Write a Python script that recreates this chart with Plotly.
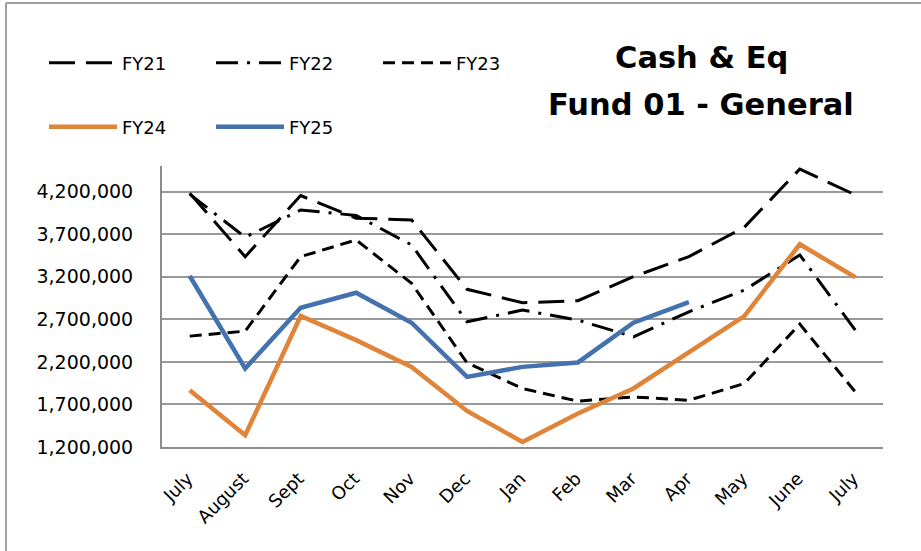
import plotly.graph_objects as go

months = ["July", "August", "Sept", "Oct", "Nov", "Dec", "Jan", "Feb", "Mar", "Apr", "May", "June", "July"]
positions = list(range(len(months)))

fy21 = [4181000, 3435000, 4153000, 3887000, 3867000, 3052000, 2894000, 2918000, 3200000, 3435000, 3781000, 4464000, 4161000]
fy22 = [4170000, 3664000, 3983000, 3920000, 3573000, 2671000, 2808000, 2690000, 2494000, 2788000, 3043000, 3455000, 2573000]
fy23 = [2502000, 2561000, 3435000, 3632000, 3122000, 2188000, 1887000, 1738000, 1788000, 1749000, 1946000, 2643000, 1847000]
fy24 = [1867000, 1338000, 2738000, 2455000, 2141000, 1624000, 1259000, 1593000, 1887000, 2314000, 2738000, 3581000, 3193000]
fy25 = [3208000, 2122000, 2835000, 3012000, 2659000, 2024000, 2141000, 2193000, 2659000, 2902000]

ytick_vals = [1200000, 1700000, 2200000, 2700000, 3200000, 3700000, 4200000]

FONT = "DejaVu Sans"

fig = go.Figure()
fig.add_trace(go.Scatter(x=positions, y=fy21, mode="lines", name="FY21",
                         line=dict(color="black", width=3, dash="26px,11px"), legend="legend"))
fig.add_trace(go.Scatter(x=positions, y=fy22, mode="lines", name="FY22",
                         line=dict(color="black", width=3, dash="22px,9px,3px,9px"), legend="legend"))
fig.add_trace(go.Scatter(x=positions, y=fy23, mode="lines", name="FY23",
                         line=dict(color="black", width=3, dash="12px,7px"), legend="legend"))
fig.add_trace(go.Scatter(x=positions, y=fy24, mode="lines", name="FY24",
                         line=dict(color="#E0843A", width=4.5), legend="legend2"))
fig.add_trace(go.Scatter(x=positions[:len(fy25)], y=fy25, mode="lines", name="FY25",
                         line=dict(color="#4472AE", width=4.5), legend="legend2"))

L, R, T, B = 162, 38, 166, 104
W, H = 921, 551
pw, ph = W - L - R, H - T - B

def px_x(p):
    return (p - L) / pw

def px_y(p):
    return (H - B - p) / ph

fig.update_layout(
    width=W, height=H,
    margin=dict(l=L, r=R, t=T, b=B, autoexpand=False),
    paper_bgcolor="white", plot_bgcolor="white",
    font=dict(family=FONT, size=18, color="black"),
    showlegend=True,
    legend=dict(orientation="h", x=px_x(44), y=px_y(63), xanchor="left", yanchor="middle",
                itemwidth=68, entrywidth=84, entrywidthmode="pixels",
                font=dict(family=FONT, size=18), bgcolor="rgba(0,0,0,0)"),
    legend2=dict(orientation="h", x=px_x(44), y=px_y(127), xanchor="left", yanchor="middle",
                 itemwidth=68, entrywidth=84, entrywidthmode="pixels",
                 font=dict(family=FONT, size=18), bgcolor="rgba(0,0,0,0)"),
    xaxis=dict(range=[-0.5, 12.5], tickmode="array", tickvals=positions, ticktext=months,
               tickangle=-45, showgrid=False, showline=True, linecolor="#8c8c8c", linewidth=2,
               zeroline=False, ticks="", ticklabelstandoff=12, ticklabelshift=-2,
               tickfont=dict(family=FONT, size=18)),
    yaxis=dict(range=[1200000, 4500000], tickmode="array", tickvals=ytick_vals,
               tickformat=",d", showgrid=True, gridcolor="#999999", gridwidth=2,
               showline=True, linecolor="#8c8c8c", linewidth=2, zeroline=False, ticks="",
               ticklabelstandoff=23, tickfont=dict(family=FONT, size=19)),
    shapes=[
        dict(type="line", xref="paper", yref="paper", x0=px_x(6), x1=px_x(6), y0=px_y(3), y1=px_y(551),
             line=dict(color="#a0a0a0", width=2)),
        dict(type="line", xref="paper", yref="paper", x0=px_x(6), x1=px_x(921), y0=px_y(3), y1=px_y(3),
             line=dict(color="#a0a0a0", width=2)),
    ],
    annotations=[
        dict(text="<b>Cash &amp; Eq</b>", xref="paper", yref="paper", x=px_x(701), y=px_y(57),
             xanchor="center", yanchor="middle", showarrow=False, font=dict(family=FONT, size=30.5)),
        dict(text="<b>Fund 01 - General</b>", xref="paper", yref="paper", x=px_x(701), y=px_y(104),
             xanchor="center", yanchor="middle", showarrow=False, font=dict(family=FONT, size=30.5)),
    ],
)

fig.write_html("out.html", config={"displayModeBar": False},
               post_script="document.body.style.margin='0';")
